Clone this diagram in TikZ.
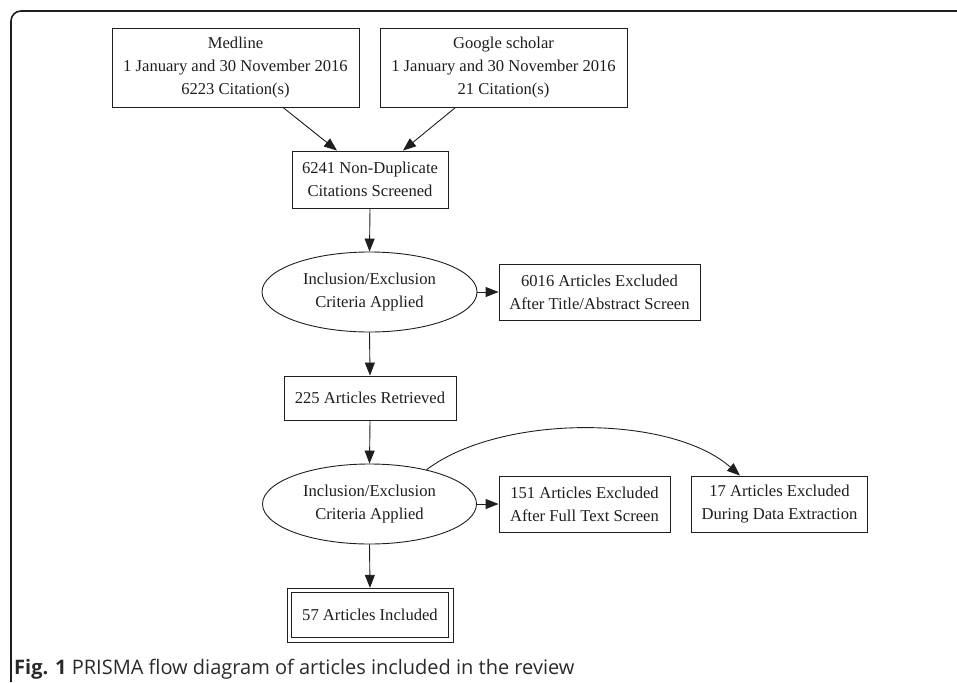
\documentclass[tikz,border=0pt]{standalone}
\usepackage{fontspec}
\setmainfont{Liberation Serif}
\newfontfamily\capfont{Open Sans}
\usetikzlibrary{arrows.meta,shapes.geometric,calc}
\definecolor{ink}{HTML}{1E1E1E}
\definecolor{capink}{HTML}{2A2A2A}
\tikzset{
  box/.style={draw=ink, line width=0.9pt, rectangle, inner sep=0pt, align=center,
    text=ink, font=\fontsize{16.6}{23}\selectfont},
  oval/.style={draw=ink, line width=0.9pt, ellipse, inner sep=0pt, align=center,
    text=ink, font=\fontsize{16.6}{23}\selectfont},
  arr/.style={draw=ink, line width=0.9pt, -{Triangle[length=13pt,width=10pt]}},
}
\begin{document}
\begin{tikzpicture}[x=1pt,y=-1pt]
\useasboundingbox (0,0) rectangle (957,682);
% frame
\draw[ink, line width=1.6pt, rounded corners=10pt] (11,682) -- (11,11) -- (957,11);

\node[box, minimum width=247pt, minimum height=79pt] (med) at (235.5,67.5)
  {Medline\\1 January and 30 November 2016\\6223 Citation(s)};
\node[box, minimum width=247pt, minimum height=79pt] (goo) at (503.5,67.5)
  {Google scholar\\1 January and 30 November 2016\\21 Citation(s)};
\node[box, minimum width=156pt, minimum height=57pt] (nd) at (370,179.5)
  {6241 Non-Duplicate\\Citations Screened};
\node[oval, minimum width=215pt, minimum height=80pt] (e1) at (369.5,292)
  {Inclusion/Exclusion\\Criteria Applied};
\node[box, minimum width=201pt, minimum height=56pt] (ex1) at (599.5,292)
  {6016 Articles Excluded\\After Title/Abstract Screen};
\node[box, minimum width=172pt, minimum height=44pt] (ret) at (370,398)
  {225 Articles Retrieved};
\node[oval, minimum width=214pt, minimum height=80pt] (e2) at (369.5,504)
  {Inclusion/Exclusion\\Criteria Applied};
\node[box, minimum width=171pt, minimum height=56pt] (ex2) at (584.5,504)
  {151 Articles Excluded\\After Full Text Screen};
\node[box, minimum width=176pt, minimum height=56pt] (ex3) at (779.5,504)
  {17 Articles Excluded\\During Data Extraction};
\node[box, minimum width=166pt, minimum height=54pt] (inc) at (370,615.3)
  {57 Articles Included};
\draw[ink, line width=0.9pt] ($(inc.south west)+(5,-5)$) rectangle ($(inc.north east)+(-5,5)$);

\draw[arr] ([xshift=47.5pt]med.south) -- ([xshift=-33pt]nd.north);
\draw[arr] ([xshift=-48pt]goo.south) -- ([xshift=33pt]nd.north);
\draw[arr] (nd.south) -- (e1.north);
\draw[arr] (e1.east) -- (ex1.west);
\draw[arr] (e1.south) -- (ret.north);
\draw[arr] (ret.south) -- (e2.north);
\draw[arr] (e2.east) -- (ex2.west);
\draw[arr] (e2.south) -- (inc.north);
\draw[arr] (e2.31) .. controls (500,414) and (670,414) .. ([xshift=-39.5pt]ex3.north);

\node[anchor=base west, inner sep=0pt, text=capink, font=\capfont\fontsize{20}{23}\selectfont] (cap) at (14,674)
  {\textbf{Fig. 1} PRISMA flow diagram of articles included in the review};
\end{tikzpicture}
\end{document}
